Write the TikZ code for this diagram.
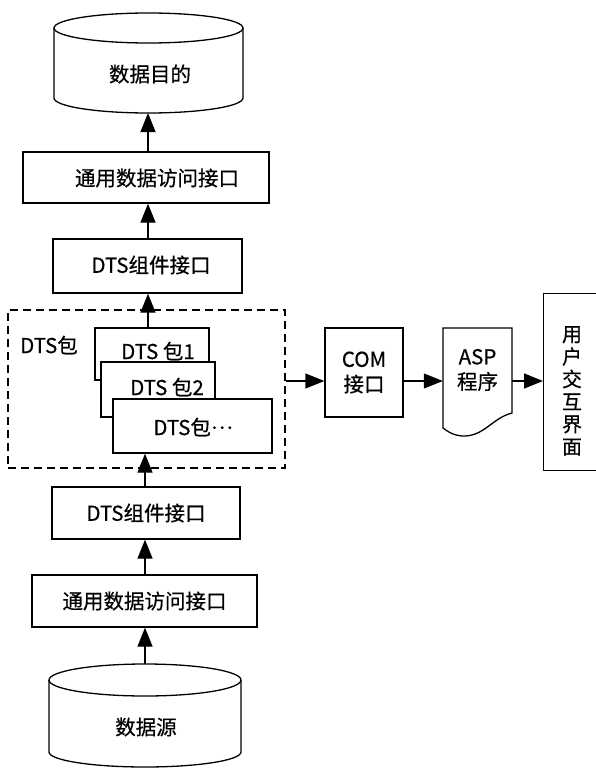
\documentclass[tikz,border=0pt]{standalone}
\usepackage{fontspec}
\setmainfont{Noto Sans CJK SC}[FakeBold=0.5]
\usetikzlibrary{arrows.meta}
\begin{document}
\begin{tikzpicture}[x=1pt,y=-1pt,
  every node/.style={font=\fontsize{20.5}{25}\selectfont, inner sep=0pt},
  box/.style={draw, line width=1.3pt, fill=white},
  ln/.style={line width=1.3pt},
  arr/.style={line width=1.3pt, -{Triangle[length=19pt,width=15pt]}},
  dashbox/.style={draw, line width=1.3pt, dash pattern=on 8pt off 5pt}]
\useasboundingbox (0,0) rectangle (596,768);
\coordinate (xa) at (148,0);
\coordinate (xb) at (145,0);
\coordinate (yh) at (0,381);

% top cylinder: data destination
\draw[ln] (54,28) -- (54,98) arc[start angle=180,end angle=360,x radius=94.5pt,y radius=15pt] -- (243,28);
\draw[ln] (148.5,28) ellipse[x radius=94.5pt,y radius=15pt];
\node (dst) at (150,74) {数据目的};
\coordinate (dstbot) at (148,113);

% boxes
\node[box, minimum width=246pt, minimum height=51pt] (gda1) at (146,177.5) {};
\node at (157,178) {通用数据访问接口};
\node[box, minimum width=189pt, minimum height=54pt] (dts1) at (147.5,266) {};
\node at (151,265) {DTS组件接口};

% DTS package group
\node[dashbox, minimum width=277pt, minimum height=158pt] (pkg) at (146.5,389) {};
\node (pkglabel) at (49,345) {DTS包};
\node[box, minimum width=114pt, minimum height=52pt] (pkg1) at (152,354) {};
\node at (158,351) {DTS 包1};
\node[box, minimum width=114pt, minimum height=55pt] (pkg2) at (158,389.5) {};
\node at (167,387) {DTS 包2};
\node[box, minimum width=159pt, minimum height=54pt] (pkgN) at (192.5,426) {};
\node at (193,427) {DTS包\raisebox{0.3em}{…}};

\node[box, minimum width=188pt, minimum height=52pt] (dts2) at (146,513) {DTS组件接口};
\node[box, minimum width=225pt, minimum height=52pt] (gda2) at (144.5,601) {通用数据访问接口};

% bottom cylinder: data source
\draw[ln] (49,680) -- (49,752) arc[start angle=180,end angle=360,x radius=96pt,y radius=15pt] -- (241,680);
\draw[ln] (145,680) ellipse[x radius=96pt,y radius=16pt];
\node (src) at (146,727) {数据源};
\coordinate (srctop) at (145,664);

% right side
\node[box, minimum width=78pt, minimum height=89pt, align=center] (com) at (364,372.5) {COM\\接口};
\draw[ln, fill=white] (443,328) -- (512,328) -- (512,413)
  .. controls (492,418) and (484,437) .. (462,436)
  .. controls (452,435) and (447,431) .. (443,428) -- cycle;
\node[minimum width=69pt, minimum height=84pt, align=center] (asp) at (477.5,370) {ASP\\程序};
\node[box, minimum width=57pt, minimum height=177pt, anchor=north west] (ui) at (543,293) {};
\node[align=center, font=\fontsize{20}{22.5}\selectfont] at (572,391) {用\\户\\交\\互\\界\\面};

% connectors
\draw[arr] (gda1.north -| xa) -- (dstbot -| xa);
\draw[arr] (dts1.north -| xa) -- (gda1.south -| xa);
\draw[arr] (pkg1.north -| xa) -- (dts1.south -| xa);
\draw[arr] (dts2.north -| xb) -- (pkgN.south -| xb);
\draw[arr] (gda2.north -| xb) -- (dts2.south -| xb);
\draw[arr] (srctop -| xb) -- (gda2.south -| xb);
\draw[arr] (pkg.east |- yh) -- (com.west |- yh);
\draw[arr] (com.east |- yh) -- (asp.west |- yh);
\draw[arr] (asp.east |- yh) -- (ui.west |- yh);
\end{tikzpicture}
\end{document}
